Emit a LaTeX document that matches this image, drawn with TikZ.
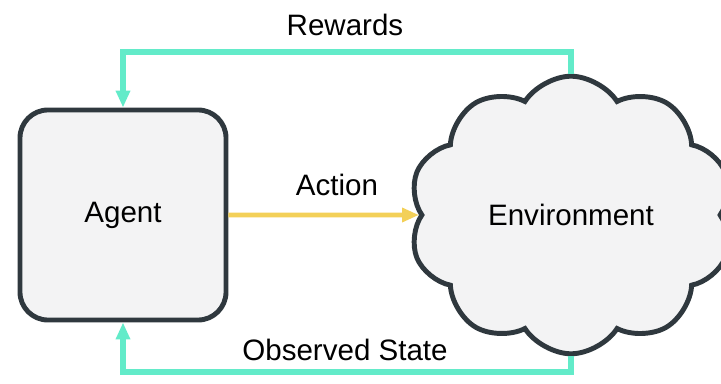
\documentclass[tikz,border=0pt]{standalone}
\usepackage{fontspec}
\setmainfont{Liberation Sans}
\usetikzlibrary{arrows.meta}
\usetikzlibrary{shapes.symbols}
\definecolor{mint}{RGB}{99,235,201}
\definecolor{gold}{RGB}{243,208,88}
\definecolor{slate}{RGB}{47,56,62}
\definecolor{paper}{RGB}{243,243,244}

\begin{document}
\begin{tikzpicture}[x=0.025cm,y=0.025cm,font=\fontsize{21}{25}\selectfont,
  block/.style={draw=slate,fill=paper,line width=3.5pt},
  feedback/.style={mint,line width=4.3pt,-{Triangle[length=0.42cm,width=0.34cm]}}]
\useasboundingbox (0,0) rectangle (721,383);
\node[block,rounded corners=0.7cm,minimum width=5.15cm,minimum height=5.25cm] (agent) at (123,168) {Agent};
\node[block,cloud,cloud puffs=10,cloud puff arc=115,minimum width=8.1cm,minimum height=6.4cm] (env) at (571,168) {Environment};
\node (action) at (337,198) {Action};
\node (rewards) at (345,358) {Rewards};
\node (observed) at (345,33) {Observed State};
\coordinate (top) at (345,331);
\coordinate (bottom) at (345,11);
\draw[feedback] (env.north) |- (top) -| (agent.north);
\draw[feedback] (env.south) |- (bottom) -| (agent.south);
\draw[gold,line width=3.5pt,-{Triangle[length=0.42cm,width=0.34cm]}] (agent.east) -- (env.west);
\end{tikzpicture}
\end{document}
